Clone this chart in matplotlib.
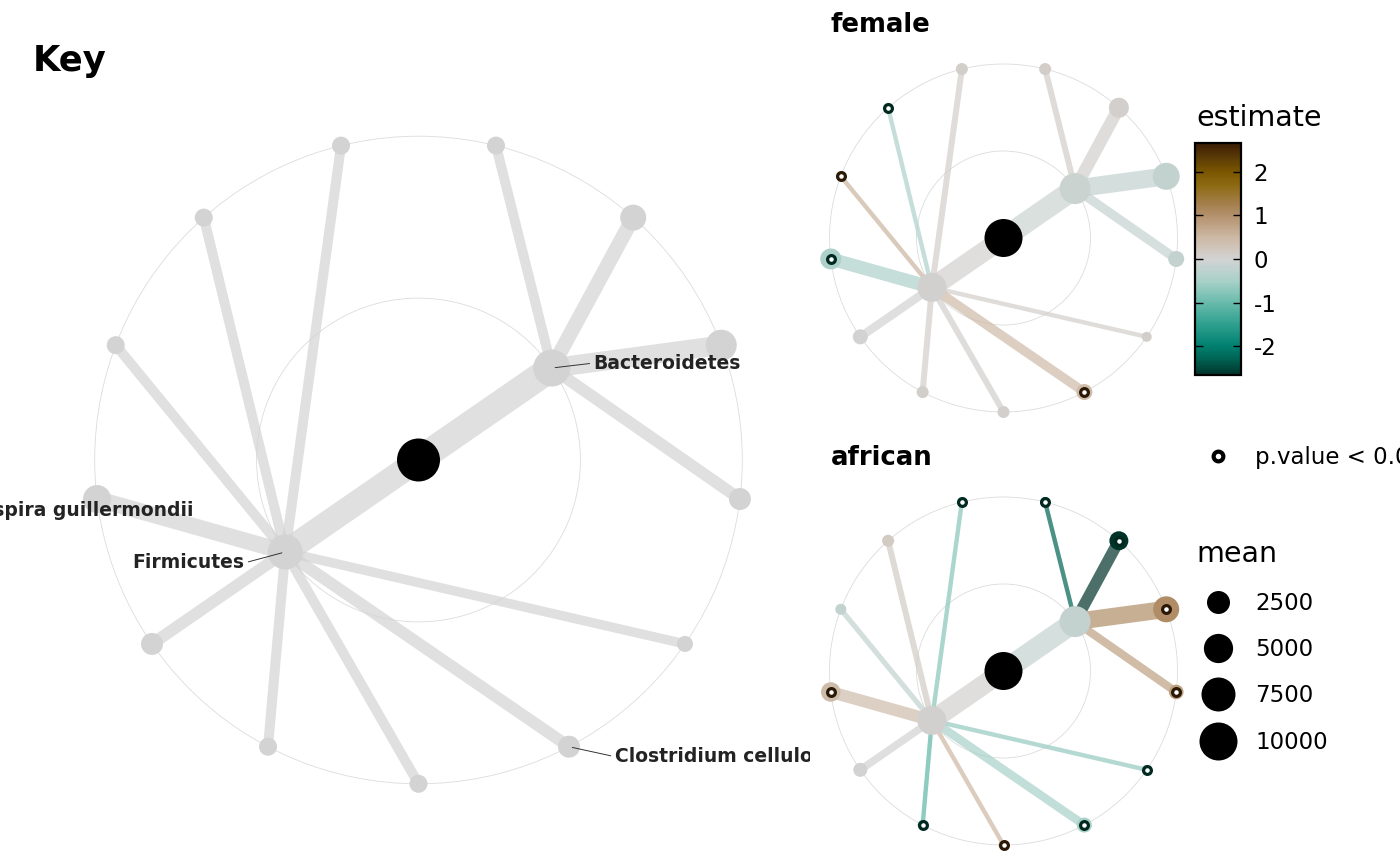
import numpy as np
import matplotlib
matplotlib.use("Agg")
import matplotlib.pyplot as plt
from matplotlib.colors import LinearSegmentedColormap, Normalize
from matplotlib.patches import Circle
from matplotlib.cm import ScalarMappable

plt.rcParams['font.family'] = ['DejaVu Sans']
plt.rcParams['axes.unicode_minus'] = False

W, H, DPI = 1400, 866, 100
PT = 72.0 / DPI  # points per pixel

# ---------------- data ----------------
node_names = ["root", "Bacteroidetes", "Firmicutes",
              "Bacteroides vulgatus", "Prevotella copri", "Bacteroides fragilis",
              "Alistipes putredinis", "Ruminococcus bromii", "Clostridium cellulolyticum",
              "Eubacterium rectale", "Faecalibacterium prausnitzii", "Roseburia intestinalis",
              "Lachnospira guillermondii", "Dorea longicatena", "Blautia obeum",
              "Coprococcus comes"]
node_parent = [-1, 0, 0, 1, 1, 1, 1, 2, 2, 2, 2, 2, 2, 2, 2, 2]
key_labels = ["Bacteroidetes", "Firmicutes", "Clostridium cellulolyticum",
              "Lachnospira guillermondii"]

mean_key = [10000, 6500, 5500, 375, 2040, 3760, 1040, 166, 1040, 375, 375, 1040,
            2660, 375, 375, 375]
mean_female = [10000, 5880, 4900, 178, 1600, 4010, 711, 44, 711, 178, 178, 544,
               1880, 44, 44, 178]
mean_african = [10000, 5880, 4900, 44, 1344, 3600, 493, 44, 544, 44, 44, 400,
                1470, 100, 178, 44]

est_female = [np.nan, -0.10, 0.05, 0.12, 0.08, -0.20, -0.17, 0.10, 0.45, 0.07,
              0.10, 0.02, -0.45, 0.55, -0.42, 0.10]
sig_female = [0, 0, 0, 0, 0, 0, 0, 0, 1, 0, 0, 0, 1, 1, 1, 0]
est_african = [np.nan, -0.18, 0.05, -2.30, -2.66, 1.05, 0.80, -0.65, -0.50, 0.50,
               -1.10, 0.00, 0.42, -0.22, 0.15, -0.75]
sig_african = [0, 0, 0, 1, 1, 1, 1, 1, 1, 1, 1, 0, 1, 0, 0, 1]

mean_breaks = [2500, 5000, 7500, 10000]
est_breaks = [-2, -1, 0, 1, 2]

# colour scale anchors (value, colour)
cm_vals = [-2.66, -2.3, -2.0, -1.5, -1.0, -0.5, 0.0, 0.5, 1.0, 1.3, 1.7, 2.0, 2.3, 2.66]
cm_cols = ['#00342a', '#006353', '#008070', '#2fa08f', '#69bbac', '#a9d1c9', '#d3d3d3',
           '#cdb8a4', '#b3916c', '#a27d48', '#8d6a12', '#7a5600', '#5e3e06', '#3a1d05']

# ---------------- scales ----------------
lim = np.nanmax(np.abs(np.r_[est_female, est_african]))
norm = Normalize(-lim, lim)
cmap = LinearSegmentedColormap.from_list(
    "est", [((v + lim) / (2 * lim), c) for v, c in zip(cm_vals, cm_cols)])


def size_panel(m):
    return 8 + 0.3 * np.sqrt(np.asarray(m, float))


def width_panel(m):
    return 2.8 + 0.24 * np.sqrt(np.asarray(m, float))


def size_key(m):
    return 12 + 0.31 * np.sqrt(np.asarray(m, float))


def width_key(m):
    return 8.96 + 0.00277 * np.asarray(m, float)


# ---------------- layout (radial tree) ----------------
n = len(node_names)
depth = np.zeros(n)
for i, p in enumerate(node_parent):
    depth[i] = 0 if p < 0 else depth[p] + 1
leaves = [i for i in range(n) if i not in node_parent]
ang = np.full(n, np.nan)
for k, i in enumerate(leaves):
    ang[i] = np.pi / 2 - 2 * np.pi * (k + 0.5) / len(leaves)
for i in reversed(range(n)):
    if np.isnan(ang[i]):
        ch = [j for j in range(n) if node_parent[j] == i]
        ang[i] = np.mean(ang[ch])
xs = depth * np.cos(ang)
ys = depth * np.sin(ang)

fig = plt.figure(figsize=(W / DPI, H / DPI), dpi=DPI)


def make_axes(left, top, right, bottom, cx, cy, unit):
    ax = fig.add_axes([left / W, 1 - bottom / H, (right - left) / W, (bottom - top) / H])
    ax.set_xlim((left - cx) / unit, (right - cx) / unit)
    ax.set_ylim((cy - bottom) / unit, (cy - top) / unit)
    ax.set_axis_off()
    return ax


def draw_tree(ax, means, colors, size_fn, width_fn):
    for r in (1, 2):
        ax.add_patch(Circle((0, 0), r, fill=False, lw=0.6, ec='#dcdcdc', zorder=0))
    for i, p in enumerate(node_parent):
        if p < 0:
            continue
        ax.plot([xs[p], xs[i]], [ys[p], ys[i]], color=colors[i], alpha=0.7,
                lw=float(width_fn(means[i])) * PT, solid_capstyle='butt', zorder=1)
    ax.scatter(xs, ys, s=(size_fn(means) * PT) ** 2, c=colors, linewidths=0, zorder=3)


def ring_colour(e):
    return '#2b1906' if e > 0 else '#00291f'


# ---------------- Key panel ----------------
axk = make_axes(0, 85, 810, 860, 418.5, 460, 161.9)
key_cols = ['black'] + ['#d3d3d3'] * (n - 1)
draw_tree(axk, mean_key, key_cols, size_key, width_key)

label_style = {  # offsets in px from node, alignment, leader
    "Bacteroidetes": ((42, 7), 'left', True),
    "Firmicutes": ((-41, -9), 'right', True),
    "Clostridium cellulolyticum": ((46, -8), 'left', True),
    "Lachnospira guillermondii": ((96, -9), 'right', False),
}
for lab in key_labels:
    i = node_names.index(lab)
    (dx, dy), ha, lead = label_style[lab]
    kw = {}
    if lead:
        kw['arrowprops'] = dict(arrowstyle='-', color='#333333', lw=0.7,
                                shrinkA=1, shrinkB=2.5,
                                relpos=(0, 0.5) if ha == 'left' else (1, 0.5))
    t = axk.annotate(lab, (xs[i], ys[i]), xytext=(dx * PT, dy * PT),
                     textcoords='offset points', ha=ha, va='center_baseline',
                     fontsize=13.5, fontweight='bold', color='#232323', zorder=5, **kw)
    t.set_clip_box(axk.bbox)
    t.set_clip_on(True)

fig.text(33 / W, 1 - 71 / H, "Key", fontsize=25.5, fontweight='bold', va='baseline')

# ---------------- female / african panels ----------------
for est, sig, means, title, top, bottom, cy, ty in [
        (est_female, sig_female, mean_female, "female", 40, 432, 238, 32),
        (est_african, sig_african, mean_african, "african", 475, 864, 671, 465)]:
    ax = make_axes(815, top, 1190, bottom, 1003.5, cy, 87)
    cols = ['black' if np.isnan(e) else cmap(norm(e)) for e in est]
    draw_tree(ax, means, cols, size_panel, width_panel)
    for i in range(n):
        if sig[i]:
            ax.plot(xs[i], ys[i], 'o', ms=5.6, mew=2.3, mfc='white',
                    mec=ring_colour(est[i]), zorder=4)
    fig.text(831 / W, 1 - ty / H, title, fontsize=18.7, fontweight='bold', va='baseline')

# ---------------- legends ----------------
cax = fig.add_axes([1195 / W, 1 - 375 / H, 46 / W, 232 / H])
cb = fig.colorbar(ScalarMappable(norm=norm, cmap=cmap), cax=cax)
cb.outline.set_linewidth(1.6)
cb.set_ticks(est_breaks)
cb.ax.minorticks_off()
cb.ax.tick_params(axis='y', direction='in', left=True, right=True, labelleft=False,
                  labelright=True, length=5.5, width=1.0, labelsize=16.5, pad=9)
fig.text(1196 / W, 1 - 126 / H, "estimate", fontsize=20.5, va='baseline')

lax = fig.add_axes([0, 0, 1, 1])
lax.set_xlim(0, W)
lax.set_ylim(H, 0)
lax.set_axis_off()
lax.plot(1218, 456, 'o', ms=7, mew=3, mfc='white', mec='black')
lax.text(1255, 464, "p.value < 0.05", fontsize=16.5, va='baseline')
lax.text(1196, 562, "mean", fontsize=20.5, va='baseline')
for v, yy in zip(mean_breaks, [602, 648, 694, 741]):
    lax.scatter(1218, yy, s=(size_panel(v) * PT) ** 2, c='black', linewidths=0)
    lax.text(1255, yy + 8.4, str(v), fontsize=16.5, va='baseline')

fig.savefig("out.png", dpi=DPI)
